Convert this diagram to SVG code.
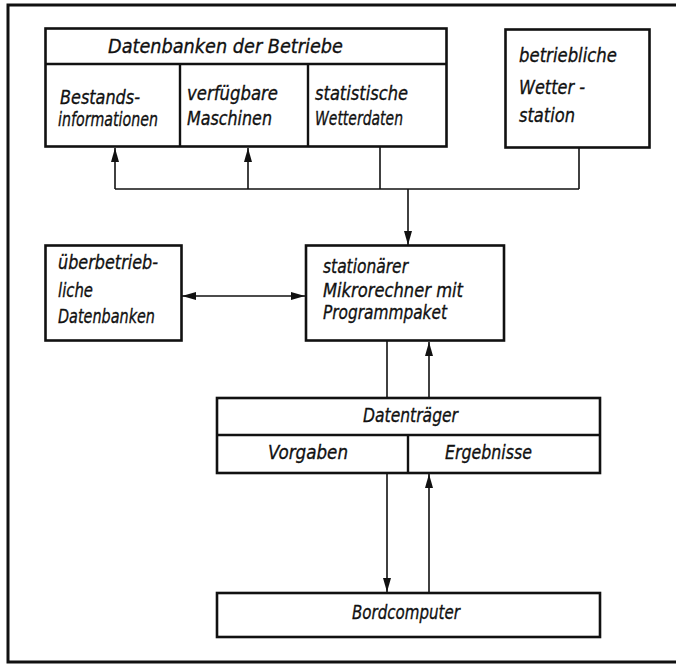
<svg xmlns="http://www.w3.org/2000/svg" width="676" height="664" viewBox="0 0 676 664">
<style>
.box{fill:#fff;stroke:#111;stroke-width:2.6}
.div{stroke:#111;stroke-width:2.4;fill:none}
.frame{stroke:#111;stroke-width:3;fill:none}
.con{stroke:#111;stroke-width:1.6;fill:none}
text{font-family:"DejaVu Sans","Liberation Sans",sans-serif;font-style:italic;font-size:19px;fill:#111;stroke:#111;stroke-width:0.35}
</style>
<defs>
<marker id="ah" viewBox="0 0 14 8" refX="14" refY="4" markerWidth="14" markerHeight="8" markerUnits="userSpaceOnUse" orient="auto-start-reverse">
<path d="M0,0 L14,4 L0,8 Z" fill="#111"/>
</marker>
</defs>
<rect width="676" height="664" fill="#fff"/>
<g id="frame">
<path class="frame" d="M676,5 H8 V662 H676"/>
</g>
<g id="connectors">
<path class="con" d="M115,189 H579"/>
<path class="con" d="M115,189 V148" marker-end="url(#ah)"/>
<path class="con" d="M248,189 V148" marker-end="url(#ah)"/>
<path class="con" d="M380,147 V189"/>
<path class="con" d="M579,148 V189"/>
<path class="con" d="M408,189 V245" marker-end="url(#ah)"/>
<path class="con" d="M182,296 H305" marker-start="url(#ah)" marker-end="url(#ah)"/>
<path class="con" d="M387,341 V398"/>
<path class="con" d="M429,398 V342" marker-end="url(#ah)"/>
<path class="con" d="M387,473 V592" marker-end="url(#ah)"/>
<path class="con" d="M429,593 V474" marker-end="url(#ah)"/>
</g>
<g id="datenbanken-betriebe">
<rect class="box" x="45.5" y="28.5" width="401" height="118"/>
<path class="div" d="M45.5,64 H446.5 M180,64 V146.5 M308,64 V146.5"/>
<text x="108" y="53" textLength="235" lengthAdjust="spacingAndGlyphs">Datenbanken der Betriebe</text>
<text x="60" y="104" textLength="80" lengthAdjust="spacingAndGlyphs">Bestands-</text>
<text x="58" y="126" textLength="100" lengthAdjust="spacingAndGlyphs">informationen</text>
<text x="187" y="100" textLength="91" lengthAdjust="spacingAndGlyphs">verfügbare</text>
<text x="187" y="125" textLength="85" lengthAdjust="spacingAndGlyphs">Maschinen</text>
<text x="315" y="100" textLength="93" lengthAdjust="spacingAndGlyphs">statistische</text>
<text x="315" y="125" textLength="88" lengthAdjust="spacingAndGlyphs">Wetterdaten</text>
</g>
<g id="wetterstation">
<rect class="box" x="505.5" y="29.5" width="144" height="118"/>
<text x="519" y="62" textLength="98" lengthAdjust="spacingAndGlyphs">betriebliche</text>
<text x="519" y="94" textLength="66" lengthAdjust="spacingAndGlyphs">Wetter -</text>
<text x="519" y="122" textLength="56" lengthAdjust="spacingAndGlyphs">station</text>
</g>
<g id="ueberbetriebliche-datenbanken">
<rect class="box" x="45.5" y="245.5" width="136" height="95"/>
<text x="58" y="269" textLength="100" lengthAdjust="spacingAndGlyphs">überbetrieb-</text>
<text x="58" y="297" textLength="35" lengthAdjust="spacingAndGlyphs">liche</text>
<text x="58" y="323" textLength="97" lengthAdjust="spacingAndGlyphs">Datenbanken</text>
</g>
<g id="mikrorechner">
<rect class="box" x="306" y="245.5" width="198" height="95"/>
<text x="323" y="273" textLength="85" lengthAdjust="spacingAndGlyphs">stationärer</text>
<text x="323" y="297" textLength="140" lengthAdjust="spacingAndGlyphs">Mikrorechner mit</text>
<text x="323" y="319" textLength="124" lengthAdjust="spacingAndGlyphs">Programmpaket</text>
</g>
<g id="datentraeger">
<rect class="box" x="217" y="398" width="383" height="75"/>
<path class="div" d="M217,435 H600 M408,435 V473"/>
<text x="363" y="422" textLength="95" lengthAdjust="spacingAndGlyphs">Datenträger</text>
<text x="268" y="459" textLength="80" lengthAdjust="spacingAndGlyphs">Vorgaben</text>
<text x="445" y="459" textLength="87" lengthAdjust="spacingAndGlyphs">Ergebnisse</text>
</g>
<g id="bordcomputer">
<rect class="box" x="217" y="593" width="383" height="44"/>
<text x="352" y="619" textLength="108" lengthAdjust="spacingAndGlyphs">Bordcomputer</text>
</g>
</svg>
